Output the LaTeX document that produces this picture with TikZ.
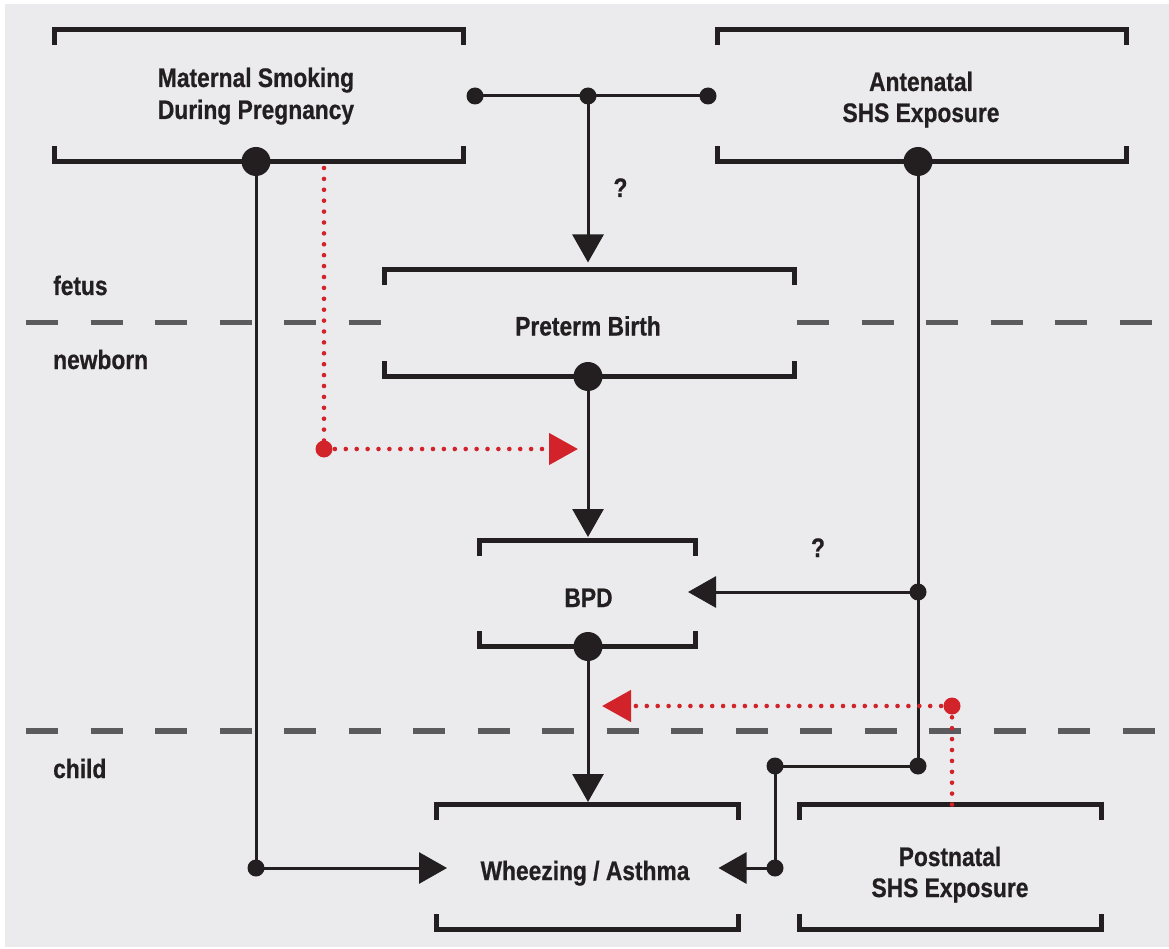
\documentclass[tikz,border=0pt]{standalone}
\usepackage{fontspec}
\setmainfont{Liberation Sans}[FakeStretch=0.85, FakeBold=0.6]
\usetikzlibrary{arrows.meta}
\definecolor{ink}{HTML}{231F20}
\definecolor{bg}{HTML}{EBEBED}
\definecolor{rd}{HTML}{D2232A}
\definecolor{dg}{HTML}{5B5B5D}
\tikzset{
 bx/.style={inner sep=0pt, outer sep=0pt, rectangle},
 brk/.style={draw=ink, line width=5pt, line join=miter, line cap=butt},
 txt/.style={inner sep=0pt, anchor=base, text=ink, font=\bfseries\fontsize{26.8}{32}\selectfont},
 con/.style={draw=ink, line width=3pt},
 arr/.style={con, -{Triangle[width=31pt,length=28pt]}},
 dot/.style={circle, fill=ink, inner sep=0pt, minimum size=17pt},
 bigdot/.style={circle, fill=ink, inner sep=0pt, minimum size=29pt},
 rdot/.style={circle, fill=rd, inner sep=0pt, minimum size=17pt},
 rline/.style={draw=rd, line width=4.6pt, line cap=round, dash pattern=on 0pt off 10.9pt},
 rarr/.style={rline, -{Triangle[width=31pt,length=29pt]}},
 sep/.style={draw=dg, line width=5.5pt, dash pattern=on 32pt off 32.5pt},
}
\newcommand\drawbrk[1]{%
 \draw[brk] ([yshift=-15.5pt]#1.north west) -- (#1.north west) -- (#1.north east) -- ([yshift=-15.5pt]#1.north east);
 \draw[brk] ([yshift=15.5pt]#1.south west) -- (#1.south west) -- (#1.south east) -- ([yshift=15.5pt]#1.south east);}
\begin{document}
\begin{tikzpicture}[x=1pt,y=-1pt]
\useasboundingbox (0,0) rectangle (1169,949);
\fill[bg] (5,4) rectangle (1169,947);
% separators
\draw[sep] (26,322.5) -- (382,322.5);
\draw[sep] (797,322.5) -- (1153,322.5);
\draw[sep] (26,731) -- (1155,731);
% boxes
\node[bx, minimum width=409pt, minimum height=132pt] (mat) at (259,95.5) {};
\node[bx, minimum width=409pt, minimum height=132pt] (ant) at (922,95.5) {};
\node[bx, minimum width=410pt, minimum height=107pt] (pre) at (589.5,323) {};
\node[bx, minimum width=216pt, minimum height=106pt] (bpd) at (587.5,593.5) {};
\node[bx, minimum width=302pt, minimum height=125pt] (wh) at (587.5,867) {};
\node[bx, minimum width=302pt, minimum height=125pt] (post) at (950.5,867) {};
\drawbrk{mat}\drawbrk{ant}\drawbrk{pre}\drawbrk{bpd}\drawbrk{wh}\drawbrk{post}
% texts
\node[txt] (matT1) at (256,87) {Maternal Smoking};
\node[txt] (matT2) at (256,119) {During Pregnancy};
\node[txt] (antT1) at (921,91) {Antenatal};
\node[txt] (antT2) at (921,122) {SHS Exposure};
\node[txt] (preT) at (588,335.5) {Preterm Birth};
\node[txt] (bpdT) at (588.5,607) {BPD};
\node[txt] (whT) at (585,880) {Wheezing / Asthma};
\node[txt] (postT1) at (950,866) {Postnatal};
\node[txt] (postT2) at (950,897) {SHS Exposure};
\node[txt] (q1) at (620.5,197) {?};
\node[txt] (q2) at (818,557) {?};
\node[txt, anchor=base west] (fetus) at (53,295) {fetus};
\node[txt, anchor=base west] (newborn) at (53,369) {newborn};
\node[txt, anchor=base west] (child) at (53,778) {child};
% dots
\node[dot] (tL) at (475,96) {};
\node[dot] (tM) at (588,96) {};
\node[dot] (tR) at (708,96) {};
\node[bigdot] (mC) at (256,161.5) {};
\node[bigdot] (aC) at (918,161.5) {};
\node[bigdot] (pC) at (588,376.5) {};
\node[bigdot] (bC) at (588,646.5) {};
\node[dot] (mL) at (256,868) {};
\node[dot] (jA) at (918,592) {};
\node[dot] (jB) at (918,766) {};
\node[dot] (jC) at (775,766) {};
\node[dot] (jD) at (775,868) {};
\node[rdot] (rA) at (324,449) {};
\node[rdot] (rB) at (952,706) {};
\coordinate (r1) at (324,168);
\coordinate (rT1) at (578,449);
\coordinate (rT2) at (602,706);
% connectors
\draw[con] (tL.center) -- (tR.center);
\draw[arr] (tM.center) -- ([yshift=7pt]tM |- pre.north);
\draw[arr] (pC.center) -- ([yshift=3.5pt]pC |- bpd.north);
\draw[arr] (bC.center) -- ([yshift=2.5pt]bC |- wh.north);
\draw[con] (mC.center) -- (mL.center);
\draw[arr] (mL.center) -- ([xshift=10.5pt]mL -| wh.west);
\draw[con] (aC.center) -- (jB.center);
\draw[arr] (jA.center) -- ([xshift=-7.5pt]jA -| bpd.east);
\draw[con] (jB.center) -- (jC.center) -- (jD.center);
\draw[arr] (jD.center) -- ([xshift=-20pt]jD -| wh.east);
% red
\draw[rline] (r1) -- (rA.center);
\draw[rarr] (rA.center) -- (rT1);
\draw[rline] (rB |- post.north) -- (rB.center);
\draw[rarr] (rB.center) -- (rT2);
\end{tikzpicture}
\end{document}
